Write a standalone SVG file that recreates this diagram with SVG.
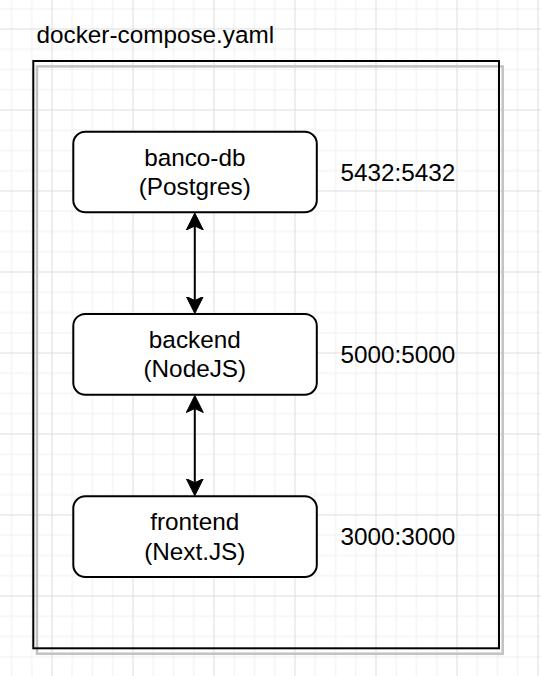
<svg xmlns="http://www.w3.org/2000/svg" width="541" height="676" viewBox="0 0 541 676">
  <style>
    text { font-family: "Liberation Sans", Arial, Helvetica, sans-serif; font-size: 24.3px; fill: #000000; }
    .node rect { fill: #ffffff; stroke: #000000; stroke-width: 2; }
    .lbl { text-anchor: middle; }
    .edge { fill: none; stroke: #000000; stroke-width: 2; }
  </style>
  <defs>
    <pattern id="grid" patternUnits="userSpaceOnUse" x="51.5" y="28.5" width="81" height="81">
      <rect x="0" y="0" width="81" height="81" fill="#ffffff"/>
      <rect x="20.25" y="0" width="1" height="81" fill="#f0f0f0"/>
      <rect x="40.5" y="0" width="1" height="81" fill="#f0f0f0"/>
      <rect x="60.75" y="0" width="1" height="81" fill="#f0f0f0"/>
      <rect x="0" y="20.25" width="81" height="1" fill="#f0f0f0"/>
      <rect x="0" y="40.5" width="81" height="1" fill="#f0f0f0"/>
      <rect x="0" y="60.75" width="81" height="1" fill="#f0f0f0"/>
      <rect x="0" y="0" width="1" height="81" fill="#dcdcdc"/>
      <rect x="0" y="0" width="81" height="1" fill="#dcdcdc"/>
    </pattern>
    <marker id="arrow" markerUnits="userSpaceOnUse" markerWidth="18" markerHeight="18" viewBox="0 -9 18 18" refX="4" refY="0" orient="auto-start-reverse">
      <path d="M0,-8.5 L17,0 L0,8.5 L4,0 Z" fill="#000000" stroke="#000000" stroke-width="1" stroke-linejoin="miter"/>
    </marker>
  </defs>

  <rect x="0" y="0" width="541" height="676" fill="url(#grid)"/>

  <g id="compose-container">
    <rect x="37" y="66.4" width="465.7" height="587.3" fill="none" stroke="#c2c2c2" stroke-width="2.5"/>
    <rect x="33.3" y="61" width="465.7" height="587.3" fill="none" stroke="#000000" stroke-width="2"/>
    <text x="36.5" y="43.4">docker-compose.yaml</text>
  </g>

  <g id="connectors">
    <path class="edge" d="M194.8,226 L194.8,300.5" marker-start="url(#arrow)" marker-end="url(#arrow)"/>
    <path class="edge" d="M194.8,408.5 L194.8,482.7" marker-start="url(#arrow)" marker-end="url(#arrow)"/>
  </g>

  <g id="banco-db" class="node">
    <rect x="73.3" y="131.7" width="243.5" height="80.6" rx="12" ry="12"/>
    <text class="lbl" x="194.8" y="166">banco-db</text>
    <text class="lbl" x="194.8" y="195">(Postgres)</text>
  </g>

  <g id="backend" class="node">
    <rect x="73.3" y="313.9" width="243.5" height="80.8" rx="12" ry="12"/>
    <text class="lbl" x="194.8" y="348.1">backend</text>
    <text class="lbl" x="194.8" y="377.3">(NodeJS)</text>
  </g>

  <g id="frontend" class="node">
    <rect x="73.3" y="496.2" width="243.5" height="80.8" rx="12" ry="12"/>
    <text class="lbl" x="194.8" y="530.4">frontend</text>
    <text class="lbl" x="194.8" y="559.6">(Next.JS)</text>
  </g>

  <g id="port-banco-db">
    <text x="340.5" y="180.5">5432:5432</text>
  </g>
  <g id="port-backend">
    <text x="340.5" y="362.7">5000:5000</text>
  </g>
  <g id="port-frontend">
    <text x="340.5" y="545">3000:3000</text>
  </g>
</svg>
